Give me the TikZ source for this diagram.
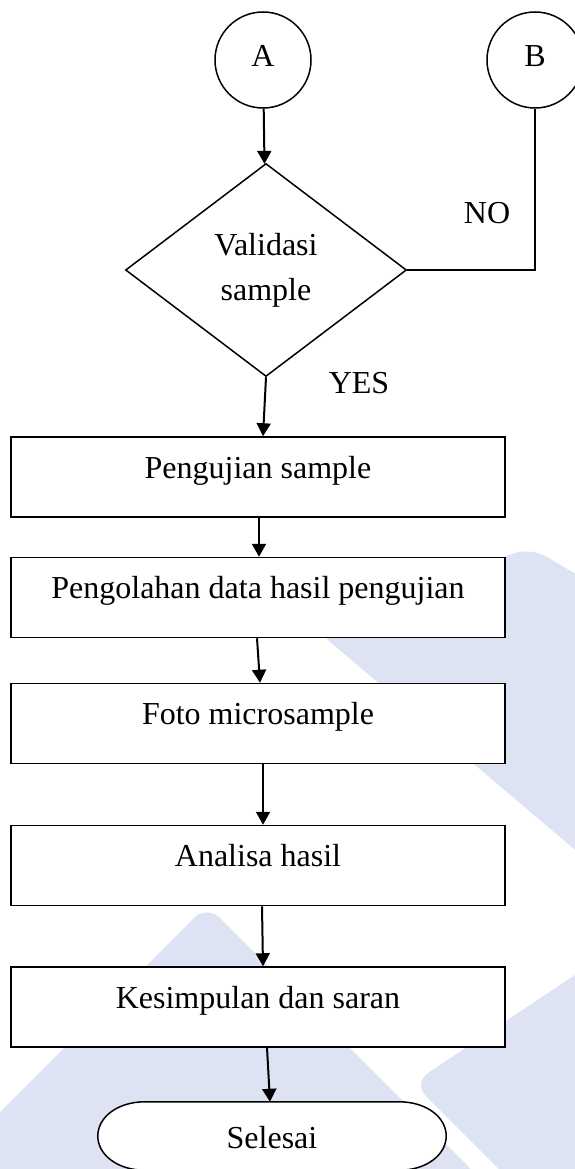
\documentclass[tikz,border=0pt]{standalone}
\usepackage{fontspec}
\setmainfont{Liberation Serif}
\usetikzlibrary{shapes.geometric,arrows.meta,calc,backgrounds}
\definecolor{wmblue}{RGB}{221,227,242}
\begin{document}
\begin{tikzpicture}[
    x=1pt, y=-1pt,
    font=\fontsize{32}{45}\selectfont,
    connector/.style={circle, draw, line width=1.5pt, fill=white, minimum size=96pt, inner sep=0pt, text height=22pt, text depth=9pt},
    decision/.style={diamond, draw, line width=1.5pt, fill=white, aspect=1.32, minimum width=281pt, minimum height=213pt, inner sep=0pt, align=center},
    process/.style={rectangle, draw, line width=1.5pt, fill=white, minimum width=494pt, minimum height=80pt, inner sep=0pt, text height=41pt, text depth=39pt},
    terminal/.style={rectangle, minimum width=348pt, minimum height=68pt, inner sep=0pt, text height=46pt, text depth=22pt},
    flow/.style={-{Triangle[length=13pt,width=14pt]}, line width=2pt},
    watermark/.style={fill=wmblue, draw=none, rounded corners=18pt}
]
\useasboundingbox (0,0) rectangle (574,1169);

% faint logo behind the chart
\begin{scope}[on background layer]
\fill[watermark] (316,630) -- (530,547) -- (620,600) -- (620,888) -- cycle;
\fill[watermark] (207,905) -- (480,1178) -- (-66,1178) -- cycle;
\fill[watermark] (413,1083) -- (650,925) -- (650,1320) -- cycle;
\end{scope}

\node[connector] (a) at (263,60) {A};
\node[connector] (b) at (535,60) {B};
\node[decision] (check) at (266,270) {Validasi\\sample};
\node (no) at (487,213) {NO};
\node (yes) at (359,383) {YES};

\node[process] (test) at (258,477) {Pengujian sample};
\node[process] (proc) at (258,597.5) {Pengolahan data hasil pengujian};
\node[process] (photo) at (258,723.5) {Foto microsample};
\node[process] (anal) at (258,865.5) {Analisa hasil};
\node[process] (concl) at (258,1007) {Kesimpulan dan saran};
\node[terminal] (done) at (272,1136) {Selesai};

% end shape
\begin{scope}[on background layer]
\draw[line width=1.5pt, fill=white]
    ($(done.north west)+(47,0)$) -- ($(done.north east)+(-47,0)$)
    .. controls ($(done.north east)+(-20,0)$) and ($(done.east)+(0,-19)$) .. (done.east)
    .. controls ($(done.east)+(0,19)$) and ($(done.south east)+(-20,0)$) .. ($(done.south east)+(-47,0)$)
    -- ($(done.south west)+(47,0)$)
    .. controls ($(done.south west)+(20,0)$) and ($(done.west)+(0,19)$) .. (done.west)
    .. controls ($(done.west)+(0,-19)$) and ($(done.north west)+(20,0)$) .. cycle;
\end{scope}

\draw[flow] (a) -- (check);
\draw[line width=1.5pt] (check.east) -| (b.south);
\draw[flow] (check.south) -- ([xshift=5pt]test.north);
\draw[flow] ([xshift=1pt]test.south) -- ([xshift=1pt]proc.north);
\draw[flow] ([xshift=-1pt]proc.south) -- ([xshift=2pt]photo.north);
\draw[flow] ([xshift=5pt]photo.south) -- ([xshift=5pt]anal.north);
\draw[flow] ([xshift=4pt]anal.south) -- ([xshift=5pt]concl.north);
\draw[flow] ([xshift=9pt]concl.south) -- ([xshift=-2pt]done.north);
\end{tikzpicture}
\end{document}
